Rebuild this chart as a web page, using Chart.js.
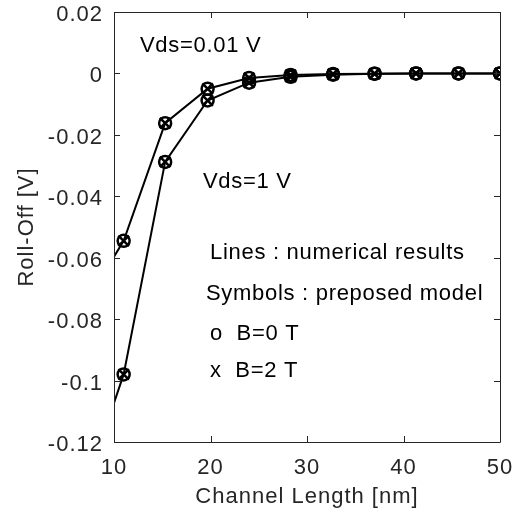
<!DOCTYPE html>
<html>
<head>
<meta charset="utf-8">
<script src="https://cdn.jsdelivr.net/npm/chart.js@4.4.1/dist/chart.umd.min.js"></script>
<style>
  html, body { margin: 0; padding: 0; background: #ffffff; }
  #wrap { width: 514px; height: 515px; position: relative; }
</style>
</head>
<body>
<div id="wrap"><canvas id="c" width="514" height="515"></canvas></div>
<script>
// ---- data ----
const channelLength = [11, 15.3, 19.7, 24, 28.3, 32.7, 37, 41.3, 45.7, 50];
const lineLength    = [10, 11, 15.3, 19.7, 24, 28.3, 32.7, 37, 41.3, 45.7, 50];

// numerical results (lines)
const lineVds001 = [-0.0597, -0.0545, -0.0162, -0.0050, -0.0015, -0.0005, -0.0002, -0.0001, 0, 0, 0];
const lineVds1   = [-0.1073, -0.0980, -0.0288, -0.0088, -0.0030, -0.0011, -0.0004, -0.0001, 0, 0, 0];

// proposed model (symbols)
const modelVds001B0 = [-0.0545, -0.0162, -0.0050, -0.0015, -0.0005, -0.0002, -0.0001, 0, 0, 0];
const modelVds001B2 = [-0.0545, -0.0162, -0.0050, -0.0015, -0.0005, -0.0002, -0.0001, 0, 0, 0];
const modelVds1B0   = [-0.0980, -0.0288, -0.0088, -0.0030, -0.0011, -0.0004, -0.0001, 0, 0, 0];
const modelVds1B2   = [-0.0980, -0.0288, -0.0088, -0.0030, -0.0011, -0.0004, -0.0001, 0, 0, 0];

const xTicks = [10, 20, 30, 40, 50];
const yTicks = [0.02, 0, -0.02, -0.04, -0.06, -0.08, -0.1, -0.12];

const annotations = [
  { text: 'Vds=0.01 V', x: 140, y: 52 },
  { text: 'Vds=1 V', x: 203, y: 188 },
  { text: 'Lines : numerical results', x: 210, y: 259 },
  { text: 'Symbols : preposed model', x: 206, y: 300 },
  { text: 'o  B=0 T', x: 210, y: 340 },
  { text: 'x  B=2 T', x: 210, y: 377 }
];

const FONT = "'Liberation Sans', Arial, Helvetica, sans-serif";
const AX = '#262626';

function pts(xs, ys) { return xs.map((x, i) => ({ x: x, y: ys[i] })); }

function lineDs(label, ys) {
  return { label, data: pts(lineLength, ys), showLine: true, borderColor: '#000', borderWidth: 2,
           pointRadius: 0, pointHoverRadius: 0, fill: false, tension: 0, order: 2 };
}
function markDs(label, ys, style, r) {
  return { label, data: pts(channelLength, ys), showLine: false, borderColor: '#000',
           backgroundColor: 'rgba(0,0,0,0)', pointStyle: style, pointRadius: r,
           pointBorderWidth: 2.5, pointHoverRadius: r, order: 1 };
}

function setSpacing(chart) { try { chart.ctx.letterSpacing = '1px'; } catch (e) {} }

const frame = {
  id: 'frame',
  beforeUpdate(chart) { setSpacing(chart); },
  beforeLayout(chart) { setSpacing(chart); },
  beforeDraw(chart) { setSpacing(chart); },
  afterDatasetsDraw(chart) {
    const { ctx, chartArea: a, scales } = chart;
    ctx.save();
    ctx.strokeStyle = AX;
    ctx.lineWidth = 1;
    ctx.beginPath();
    ctx.rect(Math.round(a.left) + 0.5, Math.round(a.top) + 0.5,
             Math.round(a.right - a.left), Math.round(a.bottom - a.top));
    const L = 6;
    xTicks.forEach(v => {
      const px = Math.round(scales.x.getPixelForValue(v)) + 0.5;
      ctx.moveTo(px, a.bottom); ctx.lineTo(px, a.bottom - L);
      ctx.moveTo(px, a.top); ctx.lineTo(px, a.top + L);
    });
    yTicks.forEach(v => {
      const py = Math.round(scales.y.getPixelForValue(v)) + 0.5;
      ctx.moveTo(a.left, py); ctx.lineTo(a.left + L, py);
      ctx.moveTo(a.right, py); ctx.lineTo(a.right - L, py);
    });
    ctx.stroke();
    ctx.fillStyle = '#000';
    ctx.font = '22px ' + FONT;
    ctx.textBaseline = 'alphabetic';
    ctx.textAlign = 'left';
    try { ctx.letterSpacing = '0.7px'; } catch (e) {}
    annotations.forEach(t => ctx.fillText(t.text, t.x, t.y));
    ctx.restore();
  }
};

new Chart(document.getElementById('c'), {
  type: 'scatter',
  data: {
    datasets: [
      lineDs('Vds=0.01 V numerical', lineVds001),
      lineDs('Vds=1 V numerical', lineVds1),
      markDs('Vds=0.01 V, B=0 T', modelVds001B0, 'circle', 6),
      markDs('Vds=0.01 V, B=2 T', modelVds001B2, 'crossRot', 7.5),
      markDs('Vds=1 V, B=0 T', modelVds1B0, 'circle', 6),
      markDs('Vds=1 V, B=2 T', modelVds1B2, 'crossRot', 7.5)
    ]
  },
  options: {
    responsive: false,
    animation: false,
    devicePixelRatio: 1,
    layout: { padding: { top: 12, right: 14, left: 0, bottom: 0 } },
    plugins: { legend: { display: false }, tooltip: { enabled: false } },
    scales: {
      x: {
        type: 'linear', min: 10, max: 50,
        afterBuildTicks: s => { s.ticks = xTicks.map(v => ({ value: v })); },
        afterFit: s => { s.height = 73; s.paddingLeft = 0; s.paddingRight = 0; },
        grid: { display: false, drawTicks: false },
        border: { display: false },
        ticks: { color: AX, font: { family: FONT, size: 22 }, padding: 13, maxRotation: 0,
                 callback: v => String(v) },
        title: { display: true, text: 'Channel Length [nm]', color: AX,
                 font: { family: FONT, size: 22 }, padding: { top: 0, bottom: 5 } }
      },
      y: {
        type: 'linear', min: -0.12, max: 0.02,
        afterBuildTicks: s => { s.ticks = yTicks.map(v => ({ value: v })); },
        afterFit: s => { s.width = 114; s.paddingTop = 0; s.paddingBottom = 0; },
        grid: { display: false, drawTicks: false },
        border: { display: false },
        ticks: { color: AX, font: { family: FONT, size: 22 }, padding: 11, labelOffset: 3,
                 callback: v => String(Number(v.toFixed(2))) },
        title: { display: true, text: 'Roll-Off [V]', color: AX,
                 font: { family: FONT, size: 22 }, padding: { top: 14, bottom: 0 } }
      }
    }
  },
  plugins: [frame]
});
</script>
</body>
</html>
